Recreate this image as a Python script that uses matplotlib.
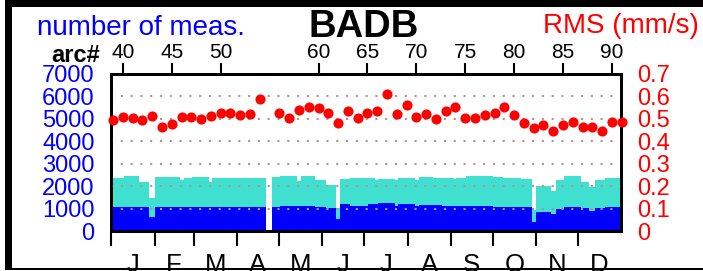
import matplotlib
matplotlib.use('Agg')
import matplotlib.pyplot as plt
import numpy as np
from matplotlib.patches import Rectangle

plt.rcParams['font.family'] = ['Liberation Sans', 'DejaVu Sans']

# RMS per arc (mm/s), arc 55 has no data
arcs = [39, 40, 41, 42, 43, 44, 45, 46, 47, 48, 49, 50, 51, 52, 53, 54,
        56, 57, 58, 59, 60, 61, 62, 63, 64, 65, 66, 67, 68, 69, 70, 71, 72,
        73, 74, 75, 76, 77, 78, 79, 80, 81, 82, 83, 84, 85, 86, 87, 88, 89, 90, 91]
rms = [0.494, 0.508, 0.505, 0.495, 0.511, 0.462, 0.477, 0.509, 0.508, 0.500,
       0.512, 0.524, 0.524, 0.515, 0.520, 0.586,
       0.526, 0.502, 0.538, 0.550, 0.548, 0.524, 0.480, 0.535, 0.505, 0.524,
       0.535, 0.610, 0.520, 0.562, 0.508, 0.520, 0.500, 0.535, 0.550, 0.502,
       0.505, 0.517, 0.527, 0.553, 0.517, 0.480, 0.460, 0.474, 0.447, 0.474,
       0.486, 0.462, 0.462, 0.447, 0.486, 0.486]

# number of measurements (total), step segments in day of year
total_edges = [0, 9, 20, 27, 31, 49, 52, 58, 70, 72, 97, 111, 115, 121, 133, 136,
               146, 154, 161, 164, 171, 189, 191, 203, 205, 217, 220, 230, 237,
               245, 247, 254, 273, 280, 293, 301, 304, 315, 318, 324, 336, 342,
               346, 353, 365]
total_vals = [2385, 2475, 2205, 1465, 2430, 2295, 2355, 2400, 2180, 2360, 2385, 0,
              2400, 2460, 2240, 2460, 2295, 2060, 1020, 2310, 2350, 2295, 2325,
              2280, 2355, 2280, 2415, 2385, 2370, 2325, 2385, 2440, 2430, 2370,
              2325, 940, 2000, 1790, 2280, 2460, 2205, 1985, 2280, 2355]

# inner (dark blue) part
inner_edges = [0, 27, 31, 85, 111, 115, 121, 146, 154, 161, 164, 171, 177, 184,
               191, 203, 205, 217, 220, 227, 237, 246, 254, 273, 293, 301, 304,
               315, 318, 324, 336, 342, 346, 353, 365]
inner_vals = [1060, 615, 1060, 1090, 0, 1060, 1135, 1060, 1015, 560, 1195, 1135,
              1105, 1195, 1270, 1135, 1195, 1120, 1150, 1180, 1105, 1135, 1120,
              1090, 1060, 420, 870, 750, 1000, 1090, 1015, 890, 1045, 1060]

month_starts = [0, 31, 59, 90, 120, 151, 181, 212, 243, 273, 304, 334, 365]
month_names = ['J', 'F', 'M', 'A', 'M', 'J', 'J', 'A', 'S', 'O', 'N', 'D']
arc_ticks = [40, 45, 50, 60, 65, 70, 75, 80, 85, 90]
count_ticks = [0, 1000, 2000, 3000, 4000, 5000, 6000, 7000]
rms_ticks = [0, 0.1, 0.2, 0.3, 0.4, 0.5, 0.6, 0.7]

W, H = 703, 271


def arc2day(a):
    return 7.0 * (np.asarray(a, dtype=float) - 40) + 8.3


def day2arc(d):
    return (np.asarray(d, dtype=float) - 8.3) / 7.0 + 40


def px(x, y):
    return x / W, 1 - y / H


fig = plt.figure(figsize=(W / 100, H / 100), dpi=100)

# black frame of the picture
for (x0, y0, x1, y1) in [(5, 0, 12, 270), (5, 0, 703, 6.5), (5, 267.5, 703, 269.5)]:
    fig.add_artist(Rectangle((x0 / W, 1 - y1 / H), (x1 - x0) / W, (y1 - y0) / H,
                             transform=fig.transFigure, color='black', lw=0))

ax = fig.add_axes([111.3 / W, (H - 231.2) / H, 510 / W, 157.5 / H])
ax.stairs(total_vals, total_edges, fill=True, color='#40e0d0', lw=0, zorder=1)
ax.stairs(inner_vals, inner_edges, fill=True, color='#0000ff', lw=0, zorder=2)
for v in count_ticks[1:-1]:
    ax.axhline(v, color='#b89090', lw=1.5, ls=(0, (1, 3.7)), zorder=3)

ax.set_xlim(0, 365)
ax.set_ylim(0, 7000)
ax.set_yticks(count_ticks)
ax.tick_params(axis='y', length=0, pad=12, labelsize=17, labelcolor='#0000ff')

ax.set_xticks(month_starts[:-1])
ax.set_xticklabels([])
mids = [(a + b) / 2 for a, b in zip(month_starts[:-1], month_starts[1:])]
ax.set_xticks(mids, minor=True)
ax.set_xticklabels(month_names, minor=True)
ax.tick_params(axis='x', which='major', direction='out', length=11, width=1.5)
ax.tick_params(axis='x', which='minor', length=0, pad=16, labelsize=18.5)

for s in ax.spines.values():
    s.set_linewidth(2)

sec = ax.secondary_xaxis('top', functions=(day2arc, arc2day))
sec.set_xticks(arc_ticks)
sec.tick_params(direction='out', length=7.7, width=1.5, pad=1, labelsize=15)
sec.spines['top'].set_linewidth(2)

ax2 = ax.twinx()
ax2.plot(arc2day(arcs), rms, 'o', color='#ff0000', ms=7.3, mec='none',
         clip_on=False, zorder=5)
ax2.set_ylim(0, 0.7)
ax2.set_yticks(rms_ticks)
ax2.set_yticklabels(['%g' % t for t in rms_ticks])
ax2.tick_params(axis='y', length=0, pad=11.5, labelsize=17, labelcolor='#ff0000')
for s in ax2.spines.values():
    s.set_linewidth(2)

fig.text(*px(37, 35), 'number of meas.', color='#0000ff', fontsize=20,
         ha='left', va='baseline')
fig.text(*px(364, 36.5), 'BADB', color='black', fontsize=27.5,
         fontweight='bold', ha='center', va='baseline')
fig.text(*px(543, 33.3), 'RMS (mm/s)', color='#ff0000', fontsize=20,
         ha='left', va='baseline')
fig.text(*px(100, 61.5), 'arc#', color='black', fontsize=17,
         fontweight='bold', ha='right', va='baseline')

fig.savefig('out.png', dpi=100)
